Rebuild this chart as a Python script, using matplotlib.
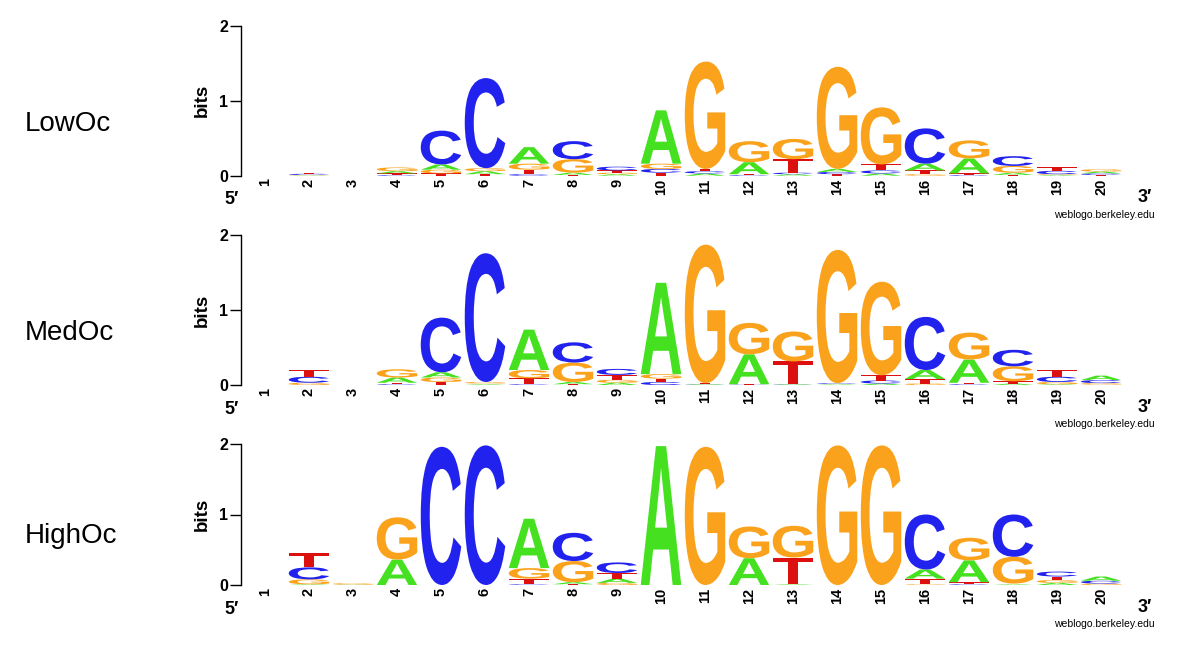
"""Sequence logos for the LowOc / MedOc / HighOc site sets."""

import matplotlib
matplotlib.use("Agg")
import matplotlib.pyplot as plt
import numpy as np
from matplotlib.font_manager import FontProperties
from matplotlib.patches import PathPatch
from matplotlib.text import TextPath
from matplotlib.transforms import Affine2D

positions = list(range(1, 21))
letters = ["A", "C", "G", "T"]

low_A = [0, 0.005, 0, 0.03, 0.07, 0.04, 0.22, 0.03, 0.02, 0.71, 0.03, 0.16, 0.02, 0.04, 0.03, 0.09, 0.20, 0.03, 0.01, 0.025]
low_C = [0, 0.015, 0, 0.01, 0.45, 1.20, 0.02, 0.24, 0.05, 0.05, 0.03, 0.01, 0.02, 0.03, 0.04, 0.47, 0.01, 0.13, 0.045, 0.02]
low_G = [0, 0.005, 0, 0.05, 0.05, 0.04, 0.08, 0.18, 0.02, 0.07, 1.43, 0.28, 0.27, 1.36, 0.76, 0.02, 0.24, 0.09, 0.01, 0.03]
low_T = [0, 0.015, 0, 0.02, 0.03, 0.02, 0.06, 0.01, 0.03, 0.04, 0.03, 0.01, 0.18, 0.02, 0.08, 0.05, 0.02, 0.01, 0.05, 0.01]

med_A = [0, 0, 0, 0.07, 0.07, 0.01, 0.54, 0.03, 0.03, 1.22, 0.01, 0.40, 0.01, 0.01, 0.02, 0.12, 0.31, 0.02, 0.01, 0.06]
med_C = [0, 0.08, 0, 0.01, 0.73, 1.72, 0.01, 0.27, 0.08, 0.04, 0.005, 0.005, 0.005, 0.01, 0.04, 0.71, 0.01, 0.22, 0.07, 0.04]
med_G = [0, 0.03, 0, 0.11, 0.06, 0.02, 0.11, 0.26, 0.04, 0.06, 1.85, 0.42, 0.40, 1.78, 1.25, 0.02, 0.36, 0.20, 0.03, 0.02]
med_T = [0, 0.09, 0, 0.02, 0.04, 0.01, 0.08, 0.01, 0.065, 0.045, 0.01, 0.005, 0.30, 0.005, 0.07, 0.06, 0.02, 0.03, 0.09, 0.005]

high_A = [0, 0.01, 0.005, 0.36, 0, 0, 0.70, 0.03, 0.06, 1.97, 0, 0.38, 0.01, 0, 0, 0.13, 0.31, 0.01, 0.03, 0.06]
high_C = [0, 0.17, 0, 0, 1.96, 1.98, 0.01, 0.40, 0.15, 0, 0, 0, 0, 0, 0, 0.78, 0.01, 0.60, 0.07, 0.04]
high_G = [0, 0.07, 0.02, 0.60, 0, 0, 0.15, 0.30, 0.03, 0, 1.96, 0.45, 0.45, 1.98, 1.98, 0.01, 0.32, 0.38, 0.04, 0.02]
high_T = [0, 0.20, 0, 0, 0, 0, 0.08, 0.01, 0.08, 0, 0, 0, 0.38, 0, 0, 0.08, 0.03, 0.01, 0.05, 0]

panel_names = ["LowOc", "MedOc", "HighOc"]
panel_data = [
    [low_A, low_C, low_G, low_T],
    [med_A, med_C, med_G, med_T],
    [high_A, high_C, high_G, high_T],
]

COLORS = {"A": "#45e020", "C": "#2222ee", "G": "#fba21c", "T": "#dd1010"}
LETTER_FONT = FontProperties(family="Liberation Sans", weight="bold")
LABEL_FONT = ["Liberation Sans", "DejaVu Sans"]

# panel placement in figure pixels (figure is 1200 x 651)
FIG_W, FIG_H = 1200, 651
AX_LEFT, AX_RIGHT = 241, 1127
PANEL_TOP = [25.5, 235.3, 444]
PANEL_BASE = [175.7, 385, 585]
LABEL_BASELINE = [131, 340, 543]
X_MIN, X_MAX = 0.455, 20.59
LETTER_WIDTH = 0.92

_glyphs = {}


def glyph(letter):
    """Unit glyph path with its bounding box normalised to [0, 1]."""
    if letter not in _glyphs:
        path = TextPath((0, 0), letter, size=1, prop=LETTER_FONT)
        bb = path.get_extents()
        t = Affine2D().translate(-bb.x0, -bb.y0).scale(1 / bb.width, 1 / bb.height)
        _glyphs[letter] = t.transform_path(path)
    return _glyphs[letter]


def draw_stack(ax, x, heights):
    """Stack letters at x, smallest at the bottom."""
    order = sorted(range(len(letters)), key=lambda k: heights[k])
    y = 0.0
    for k in order:
        h = heights[k]
        if h <= 0:
            continue
        t = Affine2D().scale(LETTER_WIDTH, h).translate(x - LETTER_WIDTH / 2, y)
        patch = PathPatch(
            t.transform_path(glyph(letters[k])),
            facecolor=COLORS[letters[k]],
            edgecolor="none",
            clip_on=False,
        )
        ax.add_patch(patch)
        y += h


def draw_panel(fig, idx):
    top, base = PANEL_TOP[idx], PANEL_BASE[idx]
    ax = fig.add_axes([
        AX_LEFT / FIG_W,
        1 - base / FIG_H,
        (AX_RIGHT - AX_LEFT) / FIG_W,
        (base - top) / FIG_H,
    ])
    ax.set_xlim(X_MIN, X_MAX)
    ax.set_ylim(0, 2)

    values = np.array(panel_data[idx])
    for j, pos in enumerate(positions):
        draw_stack(ax, pos, values[:, j])

    for side in ["top", "right", "bottom"]:
        ax.spines[side].set_visible(False)
    ax.spines["left"].set_linewidth(1.0)
    ax.spines["left"].set_bounds(0, 2)

    ax.set_yticks([0, 1, 2])
    ax.set_yticklabels(["0", "1", "2"], fontsize=11.5, fontweight="bold", family=LABEL_FONT)
    ax.tick_params(axis="y", length=8, width=1.0, pad=1)
    ax.set_xticks(positions)
    ax.set_xticklabels([str(p) for p in positions], rotation=90, fontsize=10.5,
                       fontweight="bold", family=LABEL_FONT)
    ax.tick_params(axis="x", length=0, pad=2)

    ax.text(-0.044, 0.5, "bits", transform=ax.transAxes, rotation=90, ha="center",
            va="center", fontsize=13.5, fontweight="bold", family=LABEL_FONT)
    ax.annotate("5\u2032", xy=(0, 0), xycoords="axes fraction", xytext=(-9, -24),
                textcoords="offset pixels", ha="center", va="center", fontsize=13,
                fontweight="bold", family=LABEL_FONT)
    ax.annotate("3\u2032", xy=(1, 0), xycoords="axes fraction", xytext=(18, -22),
                textcoords="offset pixels", ha="center", va="center", fontsize=13,
                fontweight="bold", family=LABEL_FONT)
    ax.annotate("weblogo.berkeley.edu", xy=(1, 0), xycoords="axes fraction",
                xytext=(28, -39), textcoords="offset pixels", ha="right", va="center",
                fontsize=7.5, family=LABEL_FONT)

    fig.text(25 / FIG_W, 1 - LABEL_BASELINE[idx] / FIG_H, panel_names[idx],
             ha="left", va="baseline", fontsize=20, family=LABEL_FONT)
    return ax


fig = plt.figure(figsize=(FIG_W / 100, FIG_H / 100), dpi=100)
for i in range(len(panel_names)):
    draw_panel(fig, i)

fig.savefig("out.png", dpi=100, facecolor="white")
